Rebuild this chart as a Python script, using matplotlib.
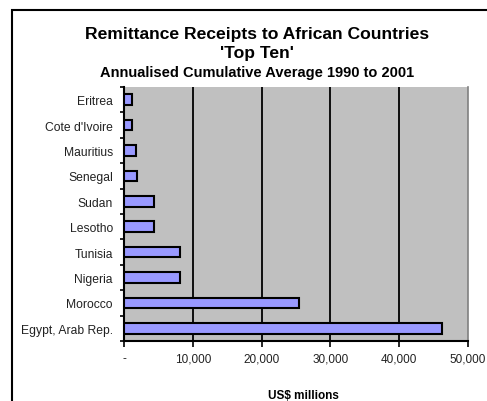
import matplotlib
matplotlib.use("Agg")
import matplotlib.pyplot as plt
from matplotlib.patches import Rectangle
from matplotlib.ticker import FuncFormatter, FixedLocator

countries = ["Egypt, Arab Rep.", "Morocco", "Nigeria", "Tunisia", "Lesotho",
             "Sudan", "Senegal", "Mauritius", "Cote d'Ivoire", "Eritrea"]
values = [46200, 25500, 8100, 8100, 4350, 4300, 1950, 1750, 1200, 1100]
xticks = [0, 10000, 20000, 30000, 40000, 50000]

plt.rcParams['font.family'] = ['Liberation Sans', 'DejaVu Sans']
W, H = 487, 402
fig = plt.figure(figsize=(W/100, H/100), dpi=100)

# outer chart border
fig.patches.append(Rectangle((12/W, -0.1), 1.2, 1 - 11/H + 0.1, transform=fig.transFigure,
                             fill=False, edgecolor='black', linewidth=1.5, zorder=0))

x0, x1, y0, y1 = 124, 468, 88, 342
ax = fig.add_axes([x0/W, 1 - y1/H, (x1-x0)/W, (y1-y0)/H])
ax.set_facecolor('#C0C0C0')

pos = list(range(len(countries)))
ax.barh(pos, values, height=0.42, color='#9999FF', edgecolor='black', linewidth=1.5, zorder=3)
ax.set_xlim(0, 50000)
ax.set_ylim(-0.5, len(countries) - 0.5)
ax.set_xticks(xticks)
ax.xaxis.set_major_formatter(FuncFormatter(lambda v, p: '-' if v == 0 else f"{int(v):,}"))
for v in xticks[1:-1]:
    ax.axvline(v, color='black', linewidth=1.3, zorder=1)

ax.set_yticks(pos)
ax.set_yticklabels(countries, color='#222222')
ax.yaxis.set_minor_locator(FixedLocator([p - 0.5 for p in pos] + [len(countries) - 0.5]))
ax.tick_params(axis='y', which='major', length=0, labelsize=8.7, pad=8)
ax.tick_params(axis='y', which='minor', length=3, width=1.2, direction='out')
ax.tick_params(axis='x', which='major', length=4, width=1.2, direction='out', labelsize=8.5,
               pad=4, labelcolor='#222222')

for s in ['left', 'bottom']:
    ax.spines[s].set_color('black')
    ax.spines[s].set_linewidth(1.5)
ax.spines['top'].set_visible(False)
ax.spines['right'].set_color('#808080')
ax.spines['right'].set_linewidth(1.2)

cx = 257 / W
fig.text(cx, 1 - 35/H, "Remittance Receipts to African Countries", ha='center', va='center',
         fontsize=12.6, fontweight='bold')
fig.text(cx, 1 - 54/H, "'Top Ten'", ha='center', va='center', fontsize=12.6, fontweight='bold')
fig.text(cx, 1 - 73/H, "Annualised Cumulative Average 1990 to 2001", ha='center', va='center',
         fontsize=10.5, fontweight='bold')
fig.text(303/W, 1 - 396/H, "US$ millions", ha='center', va='center', fontsize=8.5, fontweight='bold')

fig.savefig("out.png", dpi=100)
